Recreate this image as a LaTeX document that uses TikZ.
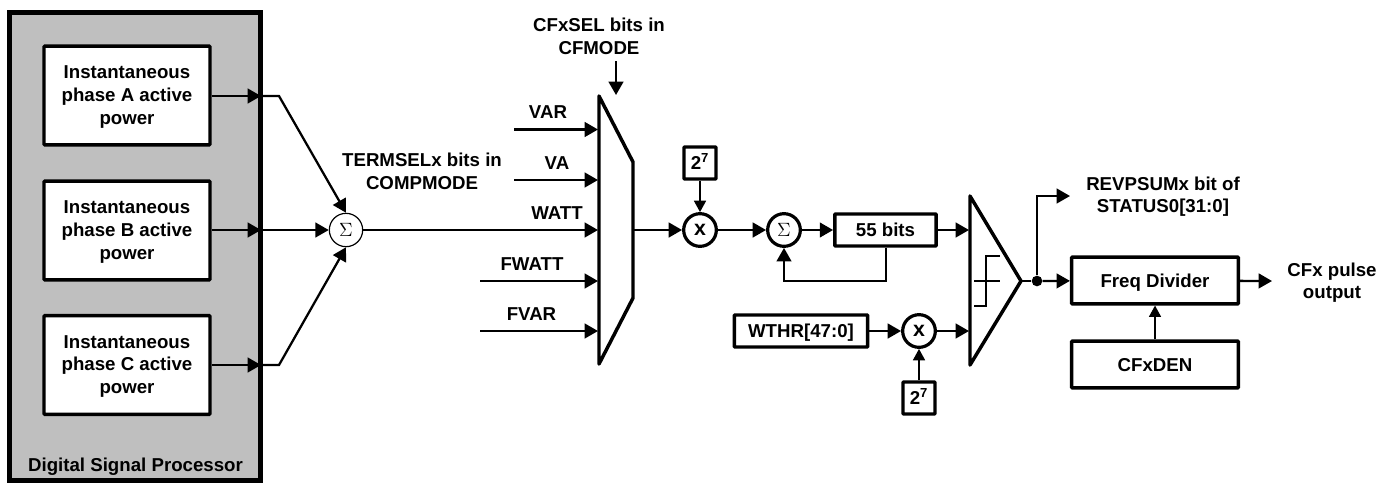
\documentclass[tikz,border=0pt]{standalone}
\usepackage{fontspec}
\setmainfont{Liberation Sans}
\usetikzlibrary{arrows.meta}
\begin{document}
\begin{tikzpicture}[
    x=.75pt,y=-.75pt,
    every node/.style={font=\fontsize{14}{17}\selectfont\bfseries,align=center,inner sep=0pt},
    block/.style={draw=black,fill=white,line width=2.6pt,rounded corners=.6pt},
    oneline/.style={block,text height=10pt,text depth=0pt},
    power/.style={block,minimum width=124.5pt,minimum height=74pt,text depth=.8pt},
    tagbox/.style={oneline,minimum width=24pt,minimum height=24pt},
    summer/.style={circle,draw=black,fill=white,line width=.9pt,minimum size=25pt,font=\fontsize{15.5}{17}\selectfont},
    mult/.style={circle,draw=black,fill=white,line width=2.4pt,minimum size=24.5pt,font=\fontsize{16}{17}\selectfont\bfseries},
    outline/.style={draw=black,line width=2.6pt,line join=round},
    sig/.style={-{Triangle[length=10pt,width=11pt]},line width=1.7pt},
    wire/.style={line width=1.7pt},
    thinsig/.style={-{Triangle[length=8.5pt,width=9pt]},line width=1.1pt},
  ]
    \useasboundingbox (0,0) rectangle (1391,483);
    % processor panel and its three power blocks
    \node[draw=black,fill=black!25,line width=3.4pt,minimum width=188pt,minimum height=351pt] (dsp) at (135,246.5) {};
    \node at (135.5,467) (dsplabel) {Digital Signal Processor};
    \node[power] (phA) at (127,95.5) {Instantaneous\\phase A active\\power};
    \node[power] (phB) at (127,230.5) {Instantaneous\\phase B active\\power};
    \node[power] (phC) at (127,365) {Instantaneous\\phase C active\\power};
    \node[summer] (sum) at (346,230) {$\Sigma$};
    \coordinate (kneeA) at (279,96);
    \coordinate (kneeC) at (279,365);
    \coordinate (edgeA) at (261,96);
    \coordinate (edgeB) at (261,230);
    \coordinate (edgeC) at (261,365);
    \draw[sig] (phA.east |- edgeA) -- (edgeA);
    \draw[sig] (phB.east |- edgeB) -- (edgeB);
    \draw[sig] (phC.east |- edgeC) -- (edgeC);
    \draw[sig] (edgeA) -- (kneeA) -- (sum.north);
    \draw[sig] (edgeB) -- (sum.west);
    \draw[sig] (edgeC) -- (kneeC) -- (sum.south);
    \node (termsel) at (422,171) {TERMSELx bits in\\COMPMODE};
    % selector: inputs land on its left edge
    \draw[outline] (599,96) coordinate (muxtop) -- (633,162) -- (633,298) -- (599,364) coordinate (muxbot) -- cycle;
    \foreach \nm/\yy/\xs/\xl/\yl in {VAR/129.5/514/548/112,VA/180/514/557/163,FWATT/281/480/532/264,FVAR/331/480/531.5/314}{
      \coordinate (from\nm) at (\xs,\yy);
      \coordinate (mux\nm) at (598,\yy);
      \draw[sig] (from\nm) -- (mux\nm);
      \node (lab\nm) at (\xl,\yl) {\nm};
    }
    \coordinate (muxWATT) at (598,230);
    \coordinate (muxout) at (634,230);
    \draw[sig] (sum.east) -- (muxWATT);
    \node (labWATT) at (557,213) {WATT};
    \node (cfsel) at (599,36) {CFxSEL bits in\\CFMODE};
    \coordinate (selin) at (616,61);
    \coordinate (selend) at (616,95);
    \draw[sig] (selin) -- (selend);
    % accumulator path
    \node[mult] (mulA) at (700,230) {x};
    \node[tagbox] (expA) at (700,163) {2\textsuperscript{7}};
    \node[summer,line width=2.4pt,minimum size=24.5pt] (acc) at (784,230) {$\Sigma$};
    \node[oneline,minimum width=76pt,minimum height=24pt] (bits) at (885.5,230) {55 bits};
    \coordinate (fbright) at (886,281);
    \coordinate (fbleft) at (784,281);
    \draw[sig] (muxout) -- (mulA.west);
    \draw[thinsig] (expA) -- (mulA);
    \draw[sig] (mulA) -- (acc);
    \draw[sig] (acc) -- (bits);
    \draw[sig,line width=1.3pt] (bits.south -| fbright) -- (fbright) -- (fbleft) -- (acc.south);
    % threshold path
    \node[oneline,minimum width=100pt,minimum height=24pt] (wthr) at (801,331) {WTHR[47:0]};
    \node[mult] (mulB) at (919,331) {x};
    \node[tagbox] (expB) at (919,398) {2\textsuperscript{7}};
    \draw[sig] (wthr) -- (mulB);
    \draw[thinsig] (expB) -- (mulB);
    % comparator with hysteresis mark
    \draw[outline] (970,196) -- (1021,281) coordinate (cmpout) -- (970,365) -- cycle;
    \coordinate (cmpA) at (969,230);
    \coordinate (cmpB) at (969,331);
    \draw[sig] (bits) -- (cmpA);
    \draw[sig] (mulB) -- (cmpB);
    \draw[line width=1.1pt] (974,281) -- (1000,281);
    \draw[line width=1.1pt] (974,306) -- (986,306) -- (986,256) -- (1000,256);
    % output stage
    \node[oneline,minimum width=125pt,minimum height=35pt] (divider) at (1155,280.5) {Freq Divider};
    \node[oneline,minimum width=125pt,minimum height=35pt] (den) at (1155,364.5) {CFxDEN};
    \node[circle,fill=black,minimum size=8pt] (dot) at (1037,281) {};
    \coordinate (revknee) at (1037,196);
    \coordinate (revend) at (1070,196);
    \coordinate (pulseend) at (1272,281);
    \draw[wire] (cmpout) -- (dot);
    \draw[sig] (dot) -- (divider);
    \draw[sig] (dot) -- (revknee) -- (revend);
    \draw[thinsig] (den) -- (divider);
    \draw[sig] (divider) -- (pulseend);
    \node (revpsum) at (1163,196.5) {REVPSUMx bit of\\STATUS0[31:0]};
    \node (pulse) at (1332,282.5) {CFx pulse\\output};
  \end{tikzpicture}
\end{document}
